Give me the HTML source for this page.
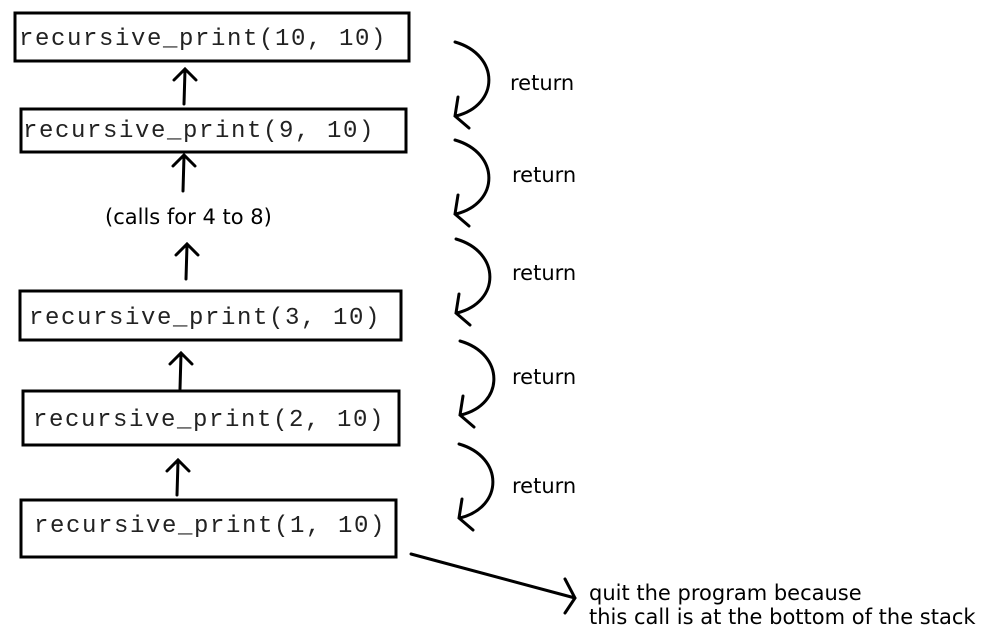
<!DOCTYPE html>
<html><head><style>body{margin:0;background:#fff}svg{display:block}</style></head><body>
<svg width="987" height="640" xmlns="http://www.w3.org/2000/svg">
<g fill="none" stroke="#000" stroke-width="3">
<rect x="15" y="13" width="394" height="48"/>
<rect x="21" y="109" width="385" height="43"/>
<rect x="20" y="291" width="381" height="49"/>
<rect x="23" y="391" width="376" height="54"/>
<rect x="21" y="500" width="375" height="57"/>
</g>
<g font-family="Liberation Mono, monospace" font-size="24" letter-spacing="1.6" fill="#222">
<text x="19" y="45">recursive_print(10, 10)</text>
<text x="23" y="137">recursive_print(9, 10)</text>
<text x="29" y="324">recursive_print(3, 10)</text>
<text x="33" y="426">recursive_print(2, 10)</text>
<text x="34" y="532">recursive_print(1, 10)</text>
</g>
<g fill="none" stroke="#000" stroke-width="3" stroke-linecap="round">
<path d="M184 104 L185 70 M174 80 L185 69 L196 80"/>
<path d="M183 191 L184 156 M173 166 L184 155 L195 166"/>
<path d="M186 279 L187 245 M176 255 L187 244 L198 255"/>
<path d="M180 389 L181 354 M170 364 L181 353 L192 364"/>
<path d="M177 495 L178 461 M167 471 L178 460 L189 471"/>
<g id="r">
<path d="M455 42 C500 55 500 105 456 116 M458 97 L455 116 L469 128"/>
</g>
<use href="#r" y="98"/>
<use href="#r" x="1" y="197"/>
<use href="#r" x="5" y="299"/>
<use href="#r" x="4" y="402"/>
<path d="M411 554 L575 598 M565 579 L575 598 L565 613"/>
</g>
<g font-family="DejaVu Sans, sans-serif" font-size="21" fill="#000">
<text x="510" y="90">return</text>
<text x="512" y="182">return</text>
<text x="512" y="280">return</text>
<text x="512" y="384">return</text>
<text x="512" y="493">return</text>
<text x="105" y="224">(calls for 4 to 8)</text>
<text x="589" y="600">quit the program because</text>
<text x="589" y="624">this call is at the bottom of the stack</text>
</g>
</svg>
</body></html>
